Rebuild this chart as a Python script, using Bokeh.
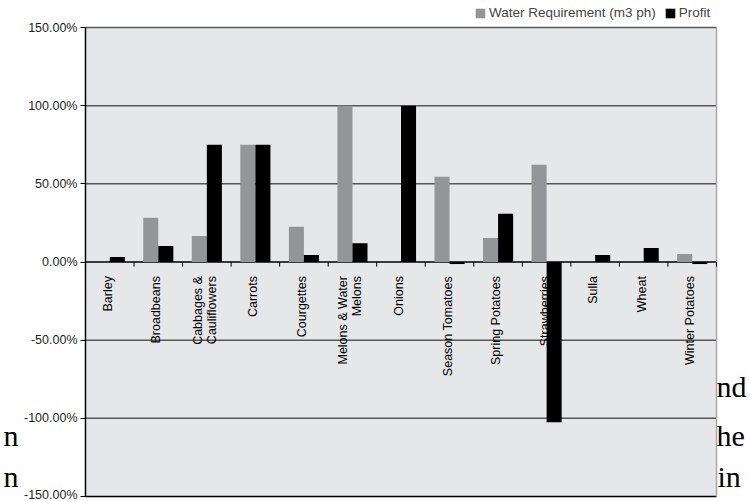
import math
from bokeh.plotting import figure
from bokeh.models import (Range1d, FixedTicker, PrintfTickFormatter, LinearAxis,
                          Label, Legend, LegendItem, ColumnDataSource)
from bokeh.core.properties import value
from bokeh.embed import file_html
from bokeh.resources import INLINE

# ---- data ----
categories = ["Barley", "Broadbeans", "Cabbages & Cauliflowers", "Carrots", "Courgettes",
              "Melons & Water Melons", "Onions", "Season Tomatoes", "Spring Potatoes",
              "Strawberries", "Sulla", "Wheat", "Winter Potatoes"]
tick_labels = ["Barley", "Broadbeans", "Cabbages &\nCauliflowers", "Carrots", "Courgettes",
               "Melons & Water\nMelons", "Onions", "Season Tomatoes", "Spring Potatoes",
               "Strawberries", "Sulla", "Wheat", "Winter Potatoes"]
water = [0, 28.3, 16.7, 75, 22.5, 100, 0, 54.5, 15.4, 62.2, 0, 0, 5.1]
profit = [3.2, 10.3, 75, 75, 4.5, 12, 100, -1.3, 30.9, -102.5, 4.5, 9, -1.3]
y_ticks = [-150, -100, -50, 0, 50, 100, 150]
series_names = ["Water Requirement (m3 ph)", "Profit"]
fragments_right = ["nd", "he", "in"]
fragments_left = ["n", "n"]

# ---- layout (pixels) ----
W, H = 750, 501
AREA_L, AREA_R, AREA_T, AREA_B = 85, 716, 27, 496
n = len(categories)
ymin, ymax = y_ticks[0], y_ticks[-1]
xs = (AREA_R - AREA_L) / n
ys = (AREA_B - AREA_T) / (ymax - ymin)
x_range = Range1d(-AREA_L / xs, n + (W - AREA_R) / xs)
y_range = Range1d(ymin - (H - AREA_B) / ys, ymax + AREA_T / ys)

pos = [i + 0.5 for i in range(n)]
src = ColumnDataSource(dict(x=pos, xw=[v - 0.155 for v in pos], xp=[v + 0.155 for v in pos],
                            label=tick_labels, water=water, profit=profit))

p = figure(width=W, height=H, x_range=x_range, y_range=y_range, output_backend="svg",
           toolbar_location=None, x_axis_location=None, y_axis_location=None,
           min_border_left=0, min_border_right=0, min_border_top=0, min_border_bottom=0)
p.background_fill_color = "white"
p.border_fill_color = "white"
p.outline_line_color = None
p.grid.visible = False

# plot area background
p.quad(left=0, right=n, bottom=ymin, top=ymax, fill_color="#e6e7e9", line_color=None,
       level="image")

# horizontal grid lines
grid_colors = ["black" if t in (0, ymin) else "#575757" for t in y_ticks]
p.segment(x0=[0] * len(y_ticks), x1=[n] * len(y_ticks), y0=y_ticks, y1=y_ticks,
          line_color=grid_colors, line_width=1.5)
# right border of the plot area
p.segment(x0=[n], x1=[n], y0=[ymin], y1=[ymax], line_color="#a8a8a8", line_width=1.5)

# y axis
yaxis = LinearAxis(fixed_location=0, bounds=(ymin, ymax), ticker=FixedTicker(ticks=y_ticks),
                   formatter=PrintfTickFormatter(format="%.2f%%"))
yaxis.axis_line_color = "black"
yaxis.axis_line_width = 1.5
yaxis.major_tick_in = 0
yaxis.major_tick_out = 5
yaxis.major_tick_line_color = "black"
yaxis.minor_tick_line_color = None
yaxis.major_label_standoff = 3
yaxis.major_label_text_font = "Liberation Sans"
yaxis.major_label_text_font_size = "12.5px"
yaxis.major_label_text_color = "#231f20"
p.add_layout(yaxis, "left")

# category labels inside the plot, under the zero line
p.text(x="x", y=-9.0, text="label", angle=math.pi / 2, text_align="right",
       text_baseline="middle", text_font=value("Liberation Sans"), text_font_size="12.5px",
       text_color="black", text_line_height=1.0, x_offset=-2, source=src)

# small ticks at category boundaries on the zero line
bounds = list(range(1, n + 1))
p.segment(x0=bounds, x1=bounds, y0=[0] * len(bounds), y1=[-3] * len(bounds),
          line_color="black", line_width=1)

r1 = p.vbar(x="xw", top="water", width=0.31, source=src, fill_color="#939598", line_color=None)
r2 = p.vbar(x="xp", top="profit", width=0.31, source=src, fill_color="black", line_color=None)

legend = Legend(items=[LegendItem(label=series_names[0], renderers=[r1]),
                       LegendItem(label=series_names[1], renderers=[r2])],
                orientation="horizontal", location=(474, H - 20), padding=0, margin=0,
                spacing=8, glyph_width=12, glyph_height=12, label_height=12,
                label_standoff=3, label_text_font="Liberation Sans",
                label_text_font_size="13.5px", label_text_baseline="middle",
                background_fill_alpha=0, border_line_alpha=0)
p.add_layout(legend)

# background document text fragments, left and right of the chart
right_spots = [(716, H - 386), (716, H - 435), (717, H - 476)]
left_spots = [(3, H - 435), (3, H - 476)]
for txt, (x, y) in zip(fragments_right + fragments_left, right_spots + left_spots):
    p.add_layout(Label(x=x, y=y, x_units="screen", y_units="screen", text=txt,
                       text_font="Liberation Serif", text_font_size="30px",
                       text_baseline="alphabetic", text_color="black"))

open("out.html", "w").write(file_html(p, INLINE))
